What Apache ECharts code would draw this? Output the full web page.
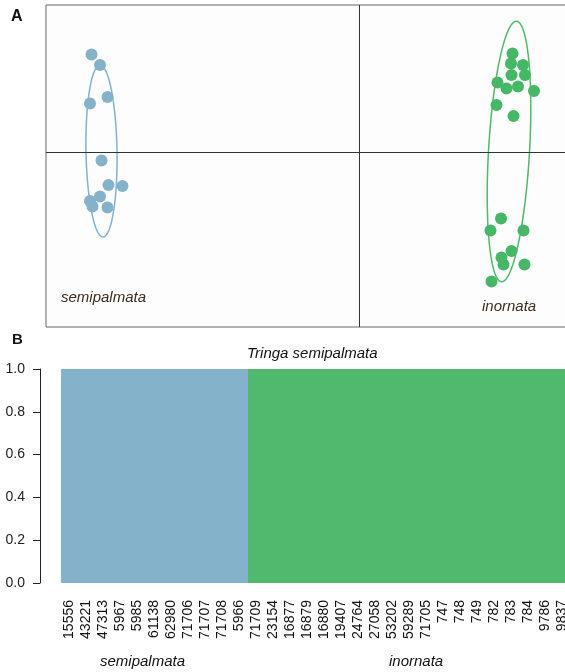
<!DOCTYPE html>
<html><head><meta charset="utf-8">
<script src="https://cdn.jsdelivr.net/npm/echarts@6/dist/echarts.min.js"></script>
<style>html,body{margin:0;padding:0;background:#fff}#c{width:565px;height:672px}</style>
</head><body><div id="c"></div>
<script>
// Panel A: DAPC scatter (LD1, LD2)
const semiX = [-5.35,-5.18,-5.38,-5.03,-5.15,-5.01,-4.73,-5.18,-5.38,-5.33,-5.03];
const semiY = [1.95,1.74,0.97,1.10,-0.17,-0.66,-0.68,-0.89,-0.98,-1.09,-1.11];
const inoX = [3.07,3.04,3.28,3.05,3.32,2.77,2.95,3.18,3.50,2.75,3.09,2.84,2.63,3.29,3.05,2.85,2.89,3.31,2.65];
const inoY = [1.97,1.77,1.74,1.54,1.54,1.39,1.27,1.31,1.22,0.94,0.72,-1.33,-1.57,-1.57,-1.98,-2.11,-2.25,-2.25,-2.59];
// inertia ellipses: centre x, centre y, semi-major, semi-minor, angle of major axis (deg)
const ellCx = [-5.15, 3.0];
const ellCy = [0.02, 0.01];
const ellA = [1.72, 2.61];
const ellB = [0.31, 0.41];
const ellAng = [91, 86.7];
// Panel B: membership probabilities
const individuals = ['15556','43221','47313','5967','5985','61138','62980','71706','71707','71708','5966',
  '71709','23154','16877','16879','16880','19407','24764','27058','53202','59289','71705','747','748','749','782','783','784','9786','9837'];
const probSemi = [1,1,1,1,1,1,1,1,1,1,1,0,0,0,0,0,0,0,0,0,0,0,0,0,0,0,0,0,0,0];
const probIno  = [0,0,0,0,0,0,0,0,0,0,0,1,1,1,1,1,1,1,1,1,1,1,1,1,1,1,1,1,1,1];
const yTicks = [0, 0.2, 0.4, 0.6, 0.8, 1.0];

const BLUE = '#84b2cb', GREEN = '#50b96e';
const FONT = 'Liberation Sans, Arial, sans-serif';
const chart = echarts.init(document.getElementById('c'));
const ellData = ellCx.map((c,i)=>[c, ellCy[i], ellA[i], ellB[i], ellAng[i], i]);
const option = {
  animation: false,
  backgroundColor: '#fff',
  grid: [
    {left: 46, top: 5, width: 525, height: 322, outerBoundsMode: 'none', containLabel: false,
     show: true, borderColor: '#666', borderWidth: 1, backgroundColor: '#fdfdfd'},
    {left: 61, top: 369, width: 510, height: 214, outerBoundsMode: 'none', containLabel: false}
  ],
  xAxis: [
    {gridIndex: 0, type: 'value', min: -6.26, max: 4.24, show: false},
    {gridIndex: 1, type: 'category', data: individuals, axisLine: {show: false}, axisTick: {show: false},
     axisLabel: {rotate: 90, interval: 0, fontSize: 14, margin: 17, color: '#111', fontFamily: FONT}}
  ],
  yAxis: [
    {gridIndex: 0, type: 'value', min: -3.5, max: 2.94, show: false},
    {gridIndex: 1, type: 'value', min: yTicks[0], max: yTicks[yTicks.length-1], interval: 0.2, offset: 21,
     splitLine: {show: false},
     axisLine: {show: true, lineStyle: {color: '#222', width: 1}},
     axisTick: {show: true, length: 7, lineStyle: {color: '#222'}},
     axisLabel: {fontSize: 14, color: '#222', margin: 15, fontFamily: FONT, formatter: v => v.toFixed(1)}}
  ],
  series: [
    {type: 'custom', xAxisIndex: 0, yAxisIndex: 0, data: ellData, silent: true, z: 2,
     renderItem: function(params, api) {
       const cx = api.value(0), cy = api.value(1), a = api.value(2), b = api.value(3);
       const ph = api.value(4) * Math.PI / 180;
       const pts = [];
       for (let k = 0; k <= 120; k++) {
         const t = k / 120 * 2 * Math.PI;
         const x = cx + a * Math.cos(t) * Math.cos(ph) - b * Math.sin(t) * Math.sin(ph);
         const y = cy + a * Math.cos(t) * Math.sin(ph) + b * Math.sin(t) * Math.cos(ph);
         pts.push(api.coord([x, y]));
       }
       return {type: 'polyline', shape: {points: pts},
         style: {fill: null, stroke: api.value(5) === 0 ? '#7fb2d0' : '#4dbb68', lineWidth: 1.5}};
     }},
    {type: 'scatter', xAxisIndex: 0, yAxisIndex: 0, symbolSize: 12, z: 3,
     itemStyle: {color: BLUE, opacity: 1},
     data: semiX.map((x,i)=>[x, semiY[i]]),
     markLine: {silent: true, symbol: 'none', label: {show: false}, animation: false,
       lineStyle: {color: '#333', width: 1, type: 'solid'},
       data: [{xAxis: 0}, {yAxis: 0}]}},
    {type: 'scatter', xAxisIndex: 0, yAxisIndex: 0, symbolSize: 12, z: 3,
     itemStyle: {color: '#45b866', opacity: 1},
     data: inoX.map((x,i)=>[x, inoY[i]])},
    {type: 'bar', xAxisIndex: 1, yAxisIndex: 1, stack: 'p', data: probSemi, barCategoryGap: 0, barWidth: '100%',
     itemStyle: {color: BLUE}},
    {type: 'bar', xAxisIndex: 1, yAxisIndex: 1, stack: 'p', data: probIno, barCategoryGap: 0, barWidth: '100%',
     itemStyle: {color: GREEN}}
  ],
  graphic: [
    {type: 'text', left: 11, top: 9, style: {text: 'A', font: 'bold 16px ' + FONT, fill: '#111'}},
    {type: 'text', left: 12, top: 332, style: {text: 'B', font: 'bold 15px ' + FONT, fill: '#111'}},
    {type: 'text', left: 61, top: 290, style: {text: 'semipalmata', font: 'italic 15px ' + FONT, fill: '#3a2c1c'}},
    {type: 'text', left: 482, top: 299, style: {text: 'inornata', font: 'italic 15px ' + FONT, fill: '#3a2c1c'}},
    {type: 'text', left: 247, top: 346, style: {text: 'Tringa semipalmata', font: 'italic 15px ' + FONT, fill: '#111'}},
    {type: 'text', left: 100, top: 654, style: {text: 'semipalmata', font: 'italic 15px ' + FONT, fill: '#111'}},
    {type: 'text', left: 389, top: 654, style: {text: 'inornata', font: 'italic 15px ' + FONT, fill: '#111'}}
  ]
};
chart.setOption(option);
</script></body></html>
